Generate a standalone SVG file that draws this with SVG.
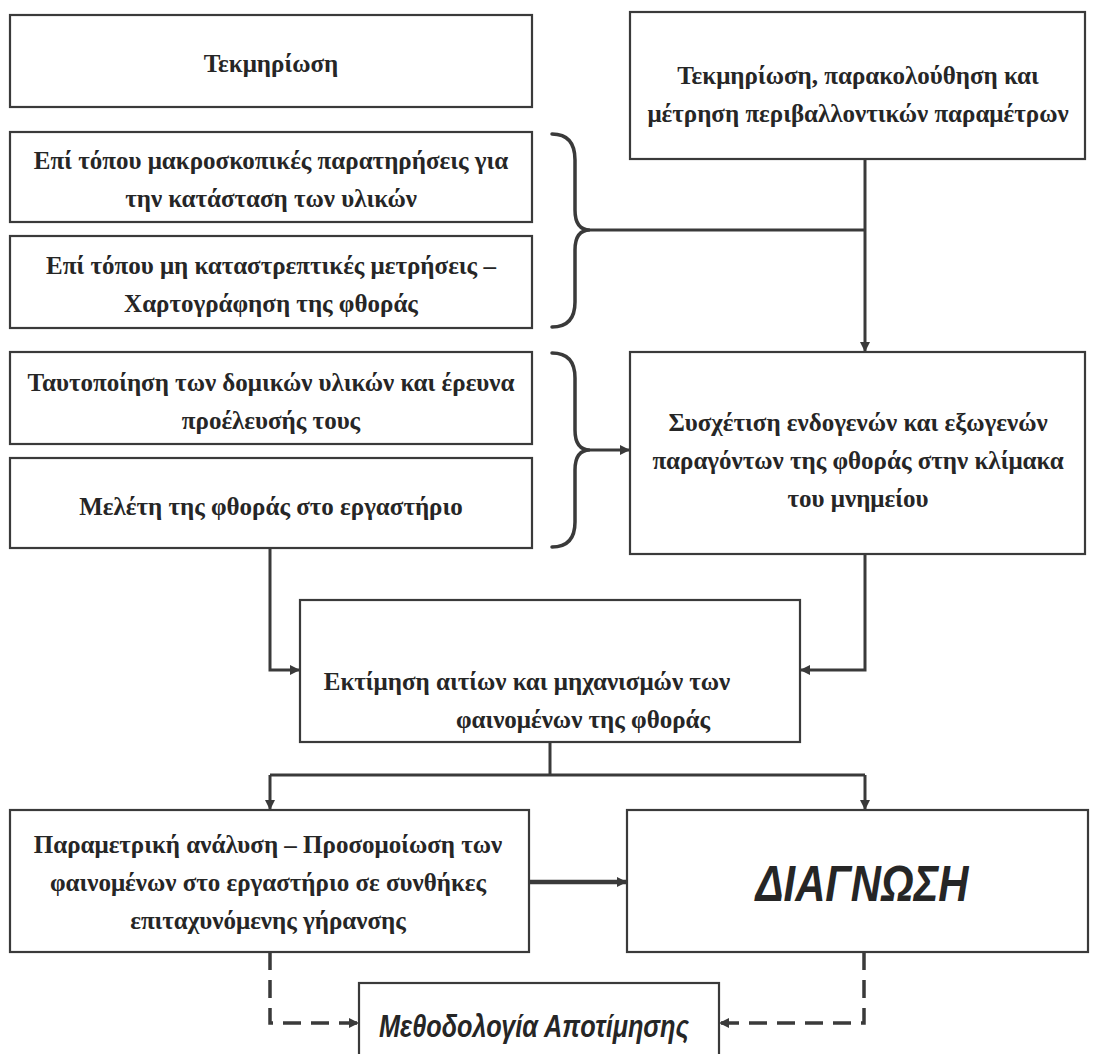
<svg xmlns="http://www.w3.org/2000/svg" width="1093" height="1054" viewBox="0 0 1093 1054">
<style>
.box{fill:#fff;stroke:#3a3a3a;stroke-width:2.2}
.t{font-family:"Liberation Serif","Times New Roman",serif;font-weight:bold;font-size:25px;fill:#262626;text-anchor:middle;dominant-baseline:central}
.s{font-family:"Liberation Sans",Arial,sans-serif;font-weight:bold;font-style:italic;fill:#262626;text-anchor:middle;dominant-baseline:central}
.c{fill:none;stroke:#3a3a3a;stroke-width:3}
.br{fill:none;stroke:#3a3a3a;stroke-width:3.5;stroke-linecap:round}
.d{fill:none;stroke:#3a3a3a;stroke-width:3.5;stroke-dasharray:18 10}
</style>
<defs>
<marker id="ah" viewBox="0 0 10 10" refX="10" refY="5" markerWidth="11" markerHeight="10" markerUnits="userSpaceOnUse" orient="auto">
<path d="M0,0 L10,5 L0,10 z" fill="#3a3a3a"/>
</marker>
</defs>
<rect width="1093" height="1054" fill="#fff"/>

<g id="n-tekmiriosi">
<rect class="box" x="10" y="15" width="522" height="92"/>
<text class="t" x="271" y="63">Τεκμηρίωση</text>
</g>
<g id="n-perivallon">
<rect class="box" x="630" y="12" width="455" height="147"/>
<text class="t" x="858" y="75">Τεκμηρίωση, παρακολούθηση και</text>
<text class="t" x="858" y="113">μέτρηση περιβαλλοντικών παραμέτρων</text>
</g>
<g id="n-makroskopikes">
<rect class="box" x="10" y="132" width="522" height="90"/>
<text class="t" x="271" y="160">Επί τόπου μακροσκοπικές παρατηρήσεις για</text>
<text class="t" x="271" y="198">την κατάσταση των υλικών</text>
</g>
<g id="n-metriseis">
<rect class="box" x="10" y="236" width="522" height="92"/>
<text class="t" x="271" y="265">Επί τόπου μη καταστρεπτικές μετρήσεις –</text>
<text class="t" x="271" y="303">Χαρτογράφηση της φθοράς</text>
</g>
<g id="n-taftopoiisi">
<rect class="box" x="10" y="352" width="522" height="92"/>
<text class="t" x="271" y="382">Ταυτοποίηση των δομικών υλικών και έρευνα</text>
<text class="t" x="271" y="420">προέλευσής τους</text>
</g>
<g id="n-meleti">
<rect class="box" x="10" y="458" width="522" height="90"/>
<text class="t" x="271" y="506">Μελέτη της φθοράς στο εργαστήριο</text>
</g>
<g id="n-sysxetisi">
<rect class="box" x="630" y="352" width="455" height="202"/>
<text class="t" x="858" y="422">Συσχέτιση ενδογενών και εξωγενών</text>
<text class="t" x="858" y="460">παραγόντων της φθοράς στην κλίμακα</text>
<text class="t" x="858" y="498">του μνημείου</text>
</g>
<g id="n-ektimisi">
<rect class="box" x="300" y="600" width="500" height="142"/>
<text class="t" x="527" y="681">Εκτίμηση αιτίων και μηχανισμών των</text>
<text class="t" x="583" y="719">φαινομένων της φθοράς</text>
</g>
<g id="n-parametriki">
<rect class="box" x="10" y="810" width="519" height="142"/>
<text class="t" x="268" y="844">Παραμετρική ανάλυση – Προσομοίωση των</text>
<text class="t" x="268" y="882">φαινομένων στο εργαστήριο σε συνθήκες</text>
<text class="t" x="268" y="920">επιταχυνόμενης γήρανσης</text>
</g>
<g id="n-diagnosi">
<rect class="box" x="627" y="810" width="461" height="142"/>
<text class="s" x="862" y="884" font-size="50" textLength="213" lengthAdjust="spacingAndGlyphs">ΔΙΑΓΝΩΣΗ</text>
</g>
<g id="n-methodologia">
<rect class="box" x="359" y="983" width="360" height="90"/>
<text class="s" x="534" y="1026" font-size="32" textLength="310" lengthAdjust="spacingAndGlyphs">Μεθοδολογία Αποτίμησης</text>
</g>

<g id="connectors">
<path class="br" d="M552,134 Q575,134 575,160 L575,210 Q575,230 590,230 Q575,230 575,250 L575,302 Q575,327 552,327"/>
<path class="br" d="M552,353 Q575,353 575,378 L575,430 Q575,450 590,450 Q575,450 575,470 L575,522 Q575,547 552,547"/>
<path class="c" d="M590,230 H865"/>
<path class="c" d="M865,159 V352" marker-end="url(#ah)"/>
<path class="c" d="M590,450 H630" marker-end="url(#ah)"/>
<path class="c" d="M270,548 V670 H300" marker-end="url(#ah)"/>
<path class="c" d="M865,554 V670 H800" marker-end="url(#ah)"/>
<path class="c" d="M550,742 V775"/>
<path class="c" d="M270,775 H865"/>
<path class="c" d="M270,775 V810" marker-end="url(#ah)"/>
<path class="c" d="M865,775 V810" marker-end="url(#ah)"/>
<path class="c" style="stroke-width:4.5" d="M529,882 H627" marker-end="url(#ah)"/>
<path class="d" d="M270,952 V1023 H359" marker-end="url(#ah)"/>
<path class="d" d="M864,952 V1023 H719" marker-end="url(#ah)"/>
</g>
</svg>
